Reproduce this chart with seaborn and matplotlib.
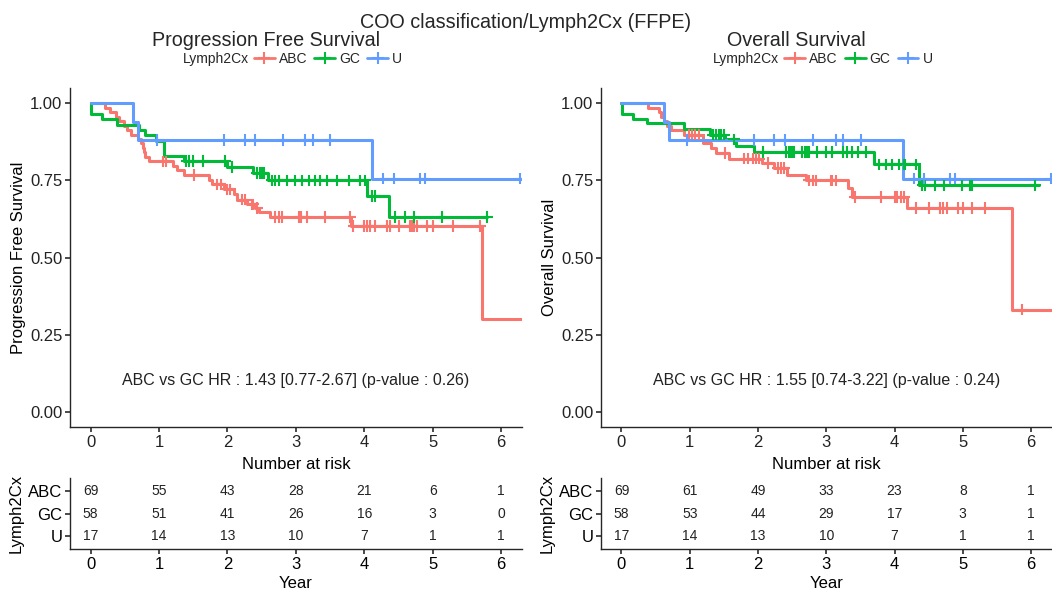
import numpy as np
import pandas as pd
import matplotlib
matplotlib.use("Agg")
import matplotlib.pyplot as plt
from matplotlib.lines import Line2D
import seaborn as sns

# -----------------------------
# Data (years / survival probability)
# -----------------------------
groups = ['ABC', 'GC', 'U']
palette = {'ABC': '#F8766D', 'GC': '#00BA38', 'U': '#619CFF'}
risk_years = [0, 1, 2, 3, 4, 5, 6]

# Progression free survival
pfs_abc_t = [0, 0.21, 0.29, 0.37, 0.41, 0.49, 0.54, 0.59, 0.70, 0.74, 0.76, 0.78, 0.80, 0.85,
             1.20, 1.27, 1.37, 1.73, 1.78, 1.95, 2.09, 2.14, 2.29, 2.41, 2.46, 2.62, 3.80, 5.72, 6.30]
pfs_abc_s = [1, 0.986, 0.971, 0.957, 0.942, 0.928, 0.913, 0.899, 0.884, 0.870, 0.855, 0.841, 0.826, 0.812,
             0.797, 0.783, 0.768, 0.753, 0.737, 0.721, 0.705, 0.688, 0.672, 0.660, 0.647, 0.631, 0.602, 0.301, 0.301]
pfs_abc_cens = [1.06, 1.11, 1.51, 1.85, 1.90, 2.00, 2.04, 2.21, 2.26, 2.36, 2.38, 2.43, 2.70, 2.75, 2.80,
                3.04, 3.07, 3.16, 3.43, 3.79, 3.84, 3.99, 4.04, 4.09, 4.16, 4.33, 4.38, 4.50, 4.67, 4.70,
                4.72, 4.77, 4.91, 5.01, 5.30, 5.69]

pfs_gc_t = [0, 0.01, 0.17, 0.39, 0.71, 0.80, 0.95, 1.07, 1.37, 1.99, 2.37, 2.60, 4.04, 4.36, 5.80]
pfs_gc_s = [1, 0.966, 0.948, 0.931, 0.914, 0.897, 0.879, 0.829, 0.813, 0.793, 0.774, 0.750, 0.699, 0.631, 0.631]
pfs_gc_cens = [1.40, 1.44, 1.49, 1.65, 1.97, 2.07, 2.43, 2.48, 2.51, 2.53, 2.65, 2.70, 2.75, 2.87, 2.99,
               3.09, 3.19, 3.28, 3.36, 3.45, 3.60, 3.77, 3.94, 4.01, 4.11, 4.16, 4.45, 4.60, 4.72, 5.13, 5.79]

pfs_u_t = [0, 0.62, 0.69, 4.11, 6.30]
pfs_u_s = [1, 0.941, 0.882, 0.756, 0.756]
pfs_u_cens = [0.97, 1.95, 2.25, 2.40, 2.81, 3.14, 3.25, 3.50, 4.28, 4.43, 4.82, 4.88, 6.27]

pfs_risk_abc = [69, 55, 43, 28, 21, 6, 1]
pfs_risk_gc = [58, 51, 41, 26, 16, 3, 0]
pfs_risk_u = [17, 14, 13, 10, 7, 1, 1]
pfs_hr = 'ABC vs GC HR : 1.43 [0.77-2.67] (p-value : 0.26)'

# Overall survival
os_abc_t = [0, 0.385, 0.55, 0.58, 0.62, 0.66, 0.72, 0.92, 1.19, 1.31, 1.38, 1.58, 2.06, 2.24, 2.43,
            2.70, 3.32, 3.38, 4.19, 5.72, 6.30]
os_abc_s = [1, 0.986, 0.971, 0.957, 0.942, 0.928, 0.913, 0.899, 0.872, 0.856, 0.840, 0.821, 0.807, 0.791, 0.769,
            0.750, 0.726, 0.697, 0.661, 0.331, 0.331]
os_abc_cens = [0.99, 1.04, 1.07, 1.14, 1.51, 1.80, 1.86, 1.92, 1.97, 2.02, 2.14, 2.29, 2.33, 2.38, 2.75,
               2.80, 2.85, 3.07, 3.09, 3.14, 3.42, 3.80, 4.01, 4.04, 4.09, 4.14, 4.31, 4.50, 4.67, 4.71,
               4.77, 4.93, 5.01, 5.13, 5.32, 5.87]

os_gc_t = [0, 0.01, 0.17, 0.38, 0.92, 1.30, 1.51, 1.68, 1.94, 3.70, 4.36, 6.11]
os_gc_s = [1, 0.966, 0.951, 0.935, 0.916, 0.899, 0.883, 0.861, 0.842, 0.802, 0.734, 0.734]
os_gc_cens = [1.34, 1.39, 1.43, 1.46, 1.50, 1.65, 2.07, 2.41, 2.46, 2.48, 2.50, 2.53, 2.65, 2.69, 2.72,
              2.75, 2.87, 2.99, 3.09, 3.24, 3.31, 3.38, 3.46, 3.58, 3.77, 3.87, 3.97, 4.06, 4.14, 4.16,
              4.31, 4.41, 4.45, 4.60, 4.72, 4.99, 5.11, 5.14, 6.06]

os_u_t = [0, 0.62, 0.69, 4.12, 6.30]
os_u_s = [1, 0.941, 0.882, 0.756, 0.756]
os_u_cens = [0.96, 1.94, 2.24, 2.40, 2.81, 3.14, 3.25, 3.51, 4.29, 4.43, 4.82, 4.89, 6.29]

os_risk_abc = [69, 61, 49, 33, 23, 8, 1]
os_risk_gc = [58, 53, 44, 29, 17, 3, 1]
os_risk_u = [17, 14, 13, 10, 7, 1, 1]
os_hr = 'ABC vs GC HR : 1.55 [0.74-3.22] (p-value : 0.24)'

# -----------------------------
# Style
# -----------------------------
sns.set_theme(style='ticks')
plt.rcParams['font.family'] = ['Liberation Sans', 'DejaVu Sans']
plt.rcParams['axes.linewidth'] = 1.0
plt.rcParams['xtick.major.size'] = 3.5
plt.rcParams['ytick.major.size'] = 3.5
plt.rcParams['xtick.color'] = '#333333'
plt.rcParams['ytick.color'] = '#333333'

W, H = 1052, 590
fig = plt.figure(figsize=(W / 100, H / 100), dpi=100)


def px_axes(x0, y0, x1, y1):
    # axes from pixel box (top-left origin)
    return fig.add_axes([x0 / W, 1 - y1 / H, (x1 - x0) / W, (y1 - y0) / H])


def build_frames(curves):
    lines, marks = [], []
    for g, (t, s, c) in zip(groups, curves):
        t = np.array(t); s = np.array(s); c = np.array(c)
        lines.append(pd.DataFrame({'time': t, 'surv': s, 'group': g}))
        idx = np.searchsorted(t, c, side='right') - 1
        marks.append(pd.DataFrame({'time': c, 'surv': s[idx], 'group': g}))
    return pd.concat(lines, ignore_index=True), pd.concat(marks, ignore_index=True)


def draw_panel(x0, x1, curves, risks, hr_text, ylabel, title):
    ax = px_axes(x0, 88, x1, 427)
    line_df, mark_df = build_frames(curves)
    sns.lineplot(data=line_df, x='time', y='surv', hue='group', palette=palette,
                 drawstyle='steps-post', estimator=None, sort=False, lw=2.2,
                 legend=False, ax=ax)
    sns.scatterplot(data=mark_df, x='time', y='surv', hue='group', palette=palette,
                    marker='+', s=70, linewidth=1.5, legend=False, ax=ax, zorder=3)
    ax.set_xlim(-0.3, 6.3)
    ax.set_ylim(-0.05, 1.05)
    ax.set_xticks(risk_years)
    ax.set_yticks([0, 0.25, 0.5, 0.75, 1.0])
    ax.set_yticklabels(['0.00', '0.25', '0.50', '0.75', '1.00'])
    ax.tick_params(labelsize=12, labelcolor='#222222', pad=2)
    ax.set_xlabel('Number at risk', fontsize=12, labelpad=5, color='black')
    ax.set_ylabel(ylabel, fontsize=12, labelpad=3, color='black')
    ax.text(3.0, 0.1, hr_text, ha='center', va='center', fontsize=11.5, color='#222222')
    sns.despine(ax=ax)

    # risk table
    tab = px_axes(x0, 478, x1, 549)
    ypos = {'ABC': 3, 'GC': 2, 'U': 1}
    for g, counts in zip(groups, risks):
        for yr, n in zip(risk_years, counts):
            tab.text(yr, ypos[g], str(n), ha='center', va='center', fontsize=10, color='#222222')
    tab.set_xlim(-0.3, 6.3)
    tab.set_ylim(0.4, 3.6)
    tab.set_xticks(risk_years)
    tab.set_yticks([3, 2, 1])
    tab.set_yticklabels(groups)
    tab.tick_params(labelsize=12, labelcolor='black', pad=2)
    tab.set_xlabel('Year', fontsize=12, labelpad=3, color='black')
    tab.set_ylabel('Lymph2Cx', fontsize=12, labelpad=3, color='black')
    sns.despine(ax=tab)

    # title + legend above the panel
    cx = (x0 + x1) / 2
    fig.text((cx - 30) / W, 1 - 46.5 / H, title, ha='center', va='baseline', fontsize=14.2)
    handles = [Line2D([], [], color=palette[g], lw=2, marker='+', markersize=8, markeredgewidth=1.5)
               for g in groups]
    fig.text((cx - 47) / W, 1 - 59 / H, 'Lymph2Cx', ha='right', va='center', fontsize=10)
    fig.legend(handles, groups, loc='center left', bbox_to_anchor=((cx - 42) / W, 1 - 59 / H),
               ncol=3, frameon=False, fontsize=10, handlelength=1.5, handletextpad=0.3,
               columnspacing=0.5, borderpad=0, borderaxespad=0, numpoints=1)
    return ax


draw_panel(70, 521.7,
           [(pfs_abc_t, pfs_abc_s, pfs_abc_cens), (pfs_gc_t, pfs_gc_s, pfs_gc_cens),
            (pfs_u_t, pfs_u_s, pfs_u_cens)],
           [pfs_risk_abc, pfs_risk_gc, pfs_risk_u], pfs_hr,
           'Progression Free Survival', 'Progression Free Survival')
draw_panel(601, 1051.5,
           [(os_abc_t, os_abc_s, os_abc_cens), (os_gc_t, os_gc_s, os_gc_cens),
            (os_u_t, os_u_s, os_u_cens)],
           [os_risk_abc, os_risk_gc, os_risk_u], os_hr,
           'Overall Survival', 'Overall Survival')

fig.text(0.5, 1 - 28 / H, 'COO classification/Lymph2Cx (FFPE)', ha='center', va='baseline', fontsize=14.2)

plt.savefig('out.png', dpi=100)
